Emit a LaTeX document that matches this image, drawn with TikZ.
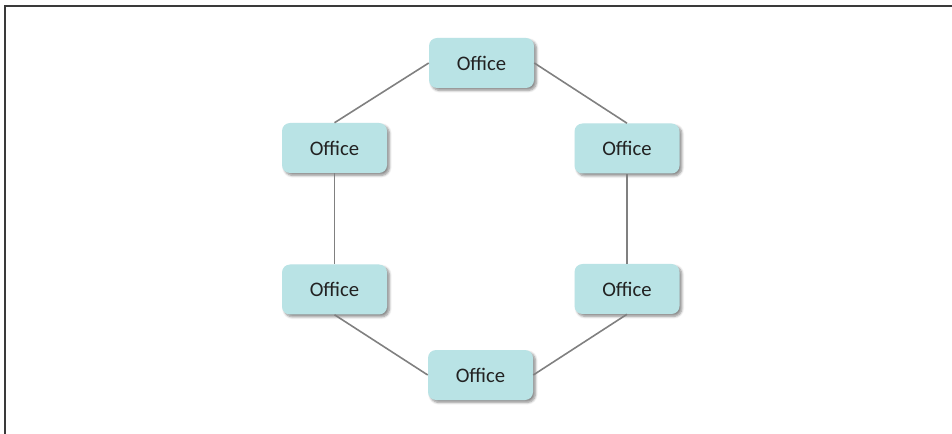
\documentclass[tikz,border=0pt]{standalone}
\usepackage{fontspec}
\setmainfont{Carlito}
\usetikzlibrary{shadows.blur}
\definecolor{officefill}{HTML}{B9E3E5}
\definecolor{linkgray}{HTML}{808080}
\definecolor{framegray}{HTML}{3A3A3A}
\definecolor{textdark}{HTML}{222222}
\tikzset{
  office/.style={draw=none, fill=officefill, rounded corners=6pt,
    minimum width=78.75pt, minimum height=37.5pt, inner sep=0pt,
    font=\fontsize{15.5}{18}\selectfont, text=textdark,
    blur shadow={shadow xshift=1.8pt, shadow yshift=-1.8pt,
      shadow blur radius=1.8pt, shadow blur steps=6, shadow opacity=45}},
  link/.style={draw=linkgray, line width=1.2pt},
  frameline/.style={draw=framegray, line width=1.5pt}
}
\begin{document}
\begin{tikzpicture}[x=0.75pt, y=-0.75pt]
  \useasboundingbox (0,0) rectangle (952,434);
  % frame edges
  \coordinate (fa) at (5,434);
  \coordinate (fb) at (5,6.5);
  \coordinate (fc) at (952,6.5);
  \draw[frameline] (fa) -- (fb) -- (fc);
  % offices
  \node[office] (top) at (481.5,63) {Office};
  \node[office] (lu) at (334.5,148) {Office};
  \node[office] (ru) at (627,148.5) {Office};
  \node[office] (ll) at (334.5,289.5) {Office};
  \node[office] (rl) at (627,289) {Office};
  \node[office] (bot) at (480.5,375) {Office};
  % ring of links
  \draw[link] (top.west) -- (lu.north);
  \draw[link] (lu.south) -- (ll.north);
  \draw[link] (ll.south) -- (bot.west);
  \draw[link] (bot.east) -- (rl.south);
  \draw[link] (rl.north) -- (ru.south);
  \draw[link] (ru.north) -- (top.east);
\end{tikzpicture}
\end{document}
